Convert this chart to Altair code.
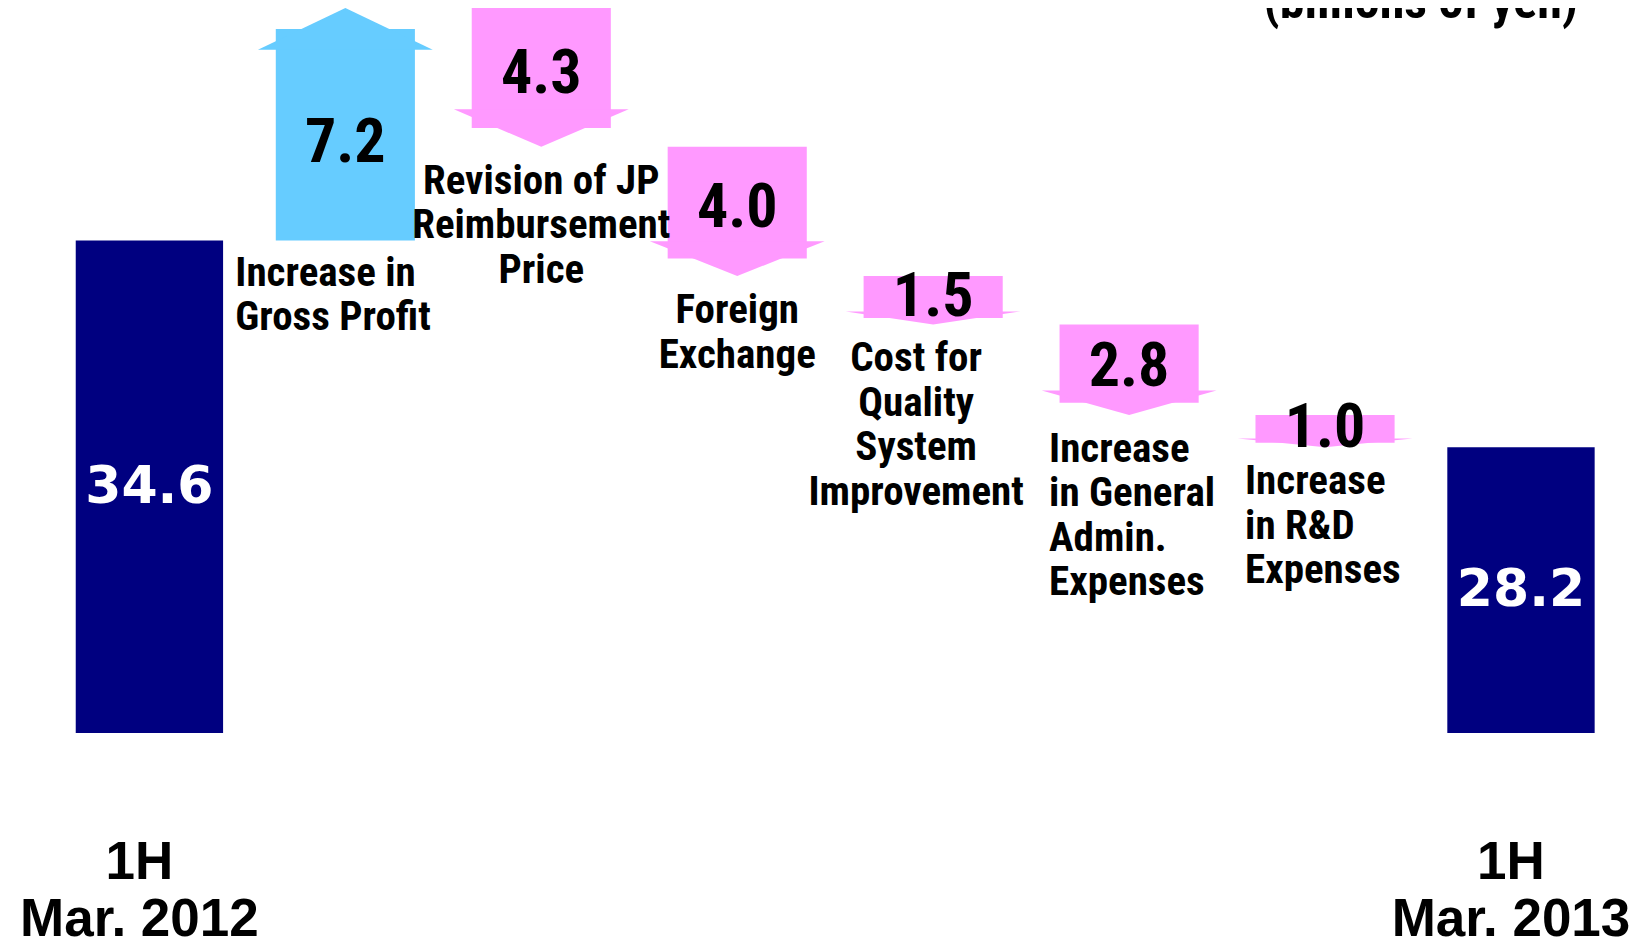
import altair as alt
import pandas as pd

# ---------------- data ----------------
step_labels = [
    "1H\nMar. 2012",
    "Increase in\nGross Profit",
    "Revision of JP\nReimbursement\nPrice",
    "Foreign\nExchange",
    "Cost for\nQuality\nSystem\nImprovement",
    "Increase\nin General\nAdmin.\nExpenses",
    "Increase\nin R&D\nExpenses",
    "1H\nMar. 2013",
]
step_kinds = ["total", "delta", "delta", "delta", "delta", "delta", "delta", "total"]
step_amounts = [34.6, 7.2, -4.3, -4.0, -1.5, -2.8, -1.0, 28.2]
unit_label = "(billions of yen)"
axis_floor = 19.35   # truncated value axis: the total bars start here
axis_top = 41.8      # highest running total

# ---------------- style constants ----------------
NAVY = "#000080"
UP_COLOR = "#66CCFF"
DOWN_COLOR = "#FF99FF"
BAR_HW = 0.376      # half width of total bars (category units)
SHAFT_HW = 0.355    # half width of arrow shafts
HEAD_HW = 0.446     # half width of arrow heads
HEAD_FRAC = {"up": 0.18, "down": 0.27}
NARROW = "'Roboto Condensed', Roboto, 'Liberation Sans', sans-serif"
WIDE = "'Liberation Sans', Arial, sans-serif"
NUMF = "'DejaVu Sans', sans-serif"

W, H = 1630, 930
xscale = alt.Scale(domain=[-0.7217, 7.5972], nice=False, zero=False)
yscale = alt.Scale(domain=[13.0, 41.8], nice=False, zero=False)

# ---------------- tables built from the arrays ----------------
bars, shafts, heads, nums, cats = [], [], [], [], []
running = 0.0
for i, (lab, kind, amt) in enumerate(zip(step_labels, step_kinds, step_amounts)):
    if kind == "total":
        bars.append(dict(idx=i, x1=i - BAR_HW, x2=i + BAR_HW, top=amt,
                         floor=axis_floor, mid=(amt + axis_floor) / 2,
                         value=f"{amt:.1f}", label=lab))
        running = amt
    else:
        s, e = running, running + amt
        running = e
        d = "up" if amt > 0 else "down"
        L = HEAD_FRAC[d] * abs(amt)
        base = e - L if d == "up" else e + L
        shaft_end = e - L * 0.5 if d == "up" else e + L * 0.5
        shafts.append(dict(idx=i, x1=i - SHAFT_HW, x2=i + SHAFT_HW, y1=s, y2=shaft_end, dir=d))
        for dx, yy in [(-HEAD_HW, base), (0.0, e), (HEAD_HW, base)]:
            heads.append(dict(idx=i, hx=i + dx, hy=yy, hbase=base, dir=d))
        nums.append(dict(idx=i, mid=(s + e) / 2, value=f"{abs(amt):.1f}", dir=d))
        cats.append(dict(idx=i, anchor=min(s, e), label=lab))

bars_df = pd.DataFrame(bars)
shafts_df = pd.DataFrame(shafts)
heads_df = pd.DataFrame(heads)
nums_df = pd.DataFrame(nums)
cats_df = pd.DataFrame(cats)
unit_df = pd.DataFrame([dict(idx=len(step_labels) - 1, y=axis_top, label=unit_label)])

dir_color = alt.Color("dir:N", scale=alt.Scale(domain=["up", "down"],
                                               range=[UP_COLOR, DOWN_COLOR]), legend=None)

bar_layer = alt.Chart(bars_df).mark_rect(color=NAVY).encode(
    x=alt.X("x1:Q", scale=xscale, axis=None), x2="x2:Q",
    y=alt.Y("top:Q", scale=yscale, axis=None), y2="floor:Q")

bar_text = alt.Chart(bars_df).mark_text(
    color="white", font=NUMF, fontWeight="bold", fontSize=52, baseline="middle"
).encode(x=alt.X("idx:Q", scale=xscale, axis=None),
         y=alt.Y("mid:Q", scale=yscale, axis=None), text="value:N")

bottom_text = alt.Chart(bars_df).mark_text(
    color="black", font=WIDE, fontWeight="bold", fontSize=53, align="center",
    baseline="alphabetic", lineBreak="\n", lineHeight=57, dx=-10, dy=146
).encode(x=alt.X("idx:Q", scale=xscale, axis=None),
         y=alt.Y("floor:Q", scale=yscale, axis=None), text="label:N")

shaft_layer = alt.Chart(shafts_df).mark_rect().encode(
    x=alt.X("x1:Q", scale=xscale, axis=None), x2="x2:Q",
    y=alt.Y("y1:Q", scale=yscale, axis=None), y2="y2:Q", color=dir_color)

head_layer = alt.Chart(heads_df).mark_area(interpolate="linear").encode(
    x=alt.X("hx:Q", scale=xscale, axis=None),
    y=alt.Y("hy:Q", scale=yscale, axis=None), y2="hbase:Q",
    color=dir_color, detail="idx:N")

def num_layer(direction, dy):
    return alt.Chart(nums_df).transform_filter(
        alt.datum.dir == direction
    ).mark_text(color="black", font=NARROW, fontWeight="bold", fontSize=62,
                baseline="middle", dy=dy).encode(
        x=alt.X("idx:Q", scale=xscale, axis=None),
        y=alt.Y("mid:Q", scale=yscale, axis=None), text="value:N")

def cat_layer(idxs, align, dx, dy):
    return alt.Chart(cats_df).transform_filter(
        alt.FieldOneOfPredicate(field="idx", oneOf=idxs)
    ).mark_text(color="black", font=NARROW, fontWeight="bold", fontSize=41,
                align=align, baseline="alphabetic", lineBreak="\n",
                lineHeight=44.5, dx=dx, dy=dy).encode(
        x=alt.X("idx:Q", scale=xscale, axis=None),
        y=alt.Y("anchor:Q", scale=yscale, axis=None), text="label:N")

unit_layer = alt.Chart(unit_df).mark_text(
    color="black", font=NARROW, fontWeight="bold", fontSize=50, align="right",
    baseline="alphabetic", dx=57, dy=10
).encode(x=alt.X("idx:Q", scale=xscale, axis=None),
         y=alt.Y("y:Q", scale=yscale, axis=None), text="label:N")

chart = alt.layer(
    bar_layer, bar_text, bottom_text, shaft_layer, head_layer,
    num_layer("up", 19), num_layer("down", -3),
    cat_layer([1], "left", -110, 45),
    cat_layer([2, 3], "center", 0, 47),
    cat_layer([4], "center", -17, 47),
    cat_layer([5, 6], "left", -80, 47),
    unit_layer,
).properties(
    width=W, height=H, padding=0, background="white",
    autosize=alt.AutoSizeParams(type="none"),
).configure_view(stroke=None)

chart.save("out.html", embed_options={"renderer": "svg", "actions": False})
